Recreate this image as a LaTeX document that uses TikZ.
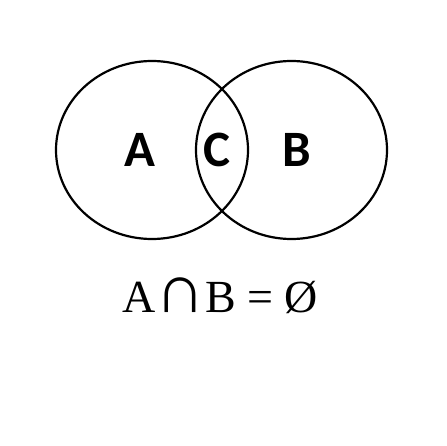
\documentclass[tikz,border=0pt]{standalone}
\usepackage{fontspec}
\setmainfont{Liberation Serif}
\newfontfamily\labelfont{Carlito}
\usetikzlibrary{positioning}

\begin{document}
\begin{tikzpicture}[x=1pt, y=-1pt,
  setline/.style={draw=black, line width=2.2pt},
  setlabel/.style={font=\labelfont\bfseries\fontsize{51}{51}\selectfont, inner sep=0pt},
  formulatext/.style={font=\fontsize{46}{46}\selectfont, inner sep=0pt}]
\useasboundingbox[fill=white] (0,0) rectangle (446,446);
\draw[setline] (152,150) ellipse [x radius=96, y radius=89];
\draw[setline] (291.5,150) ellipse [x radius=95.5, y radius=89];
\node[setlabel] (setA) at (140,150) {A};
\node[setlabel] (setC) at (217,150) {C};
\node[setlabel] (setB) at (297,150) {B};
\node[formulatext, anchor=base] (formula) at (220,312) {A\scalebox{1.5}{∩}B = Ø};
\end{tikzpicture}
\end{document}
